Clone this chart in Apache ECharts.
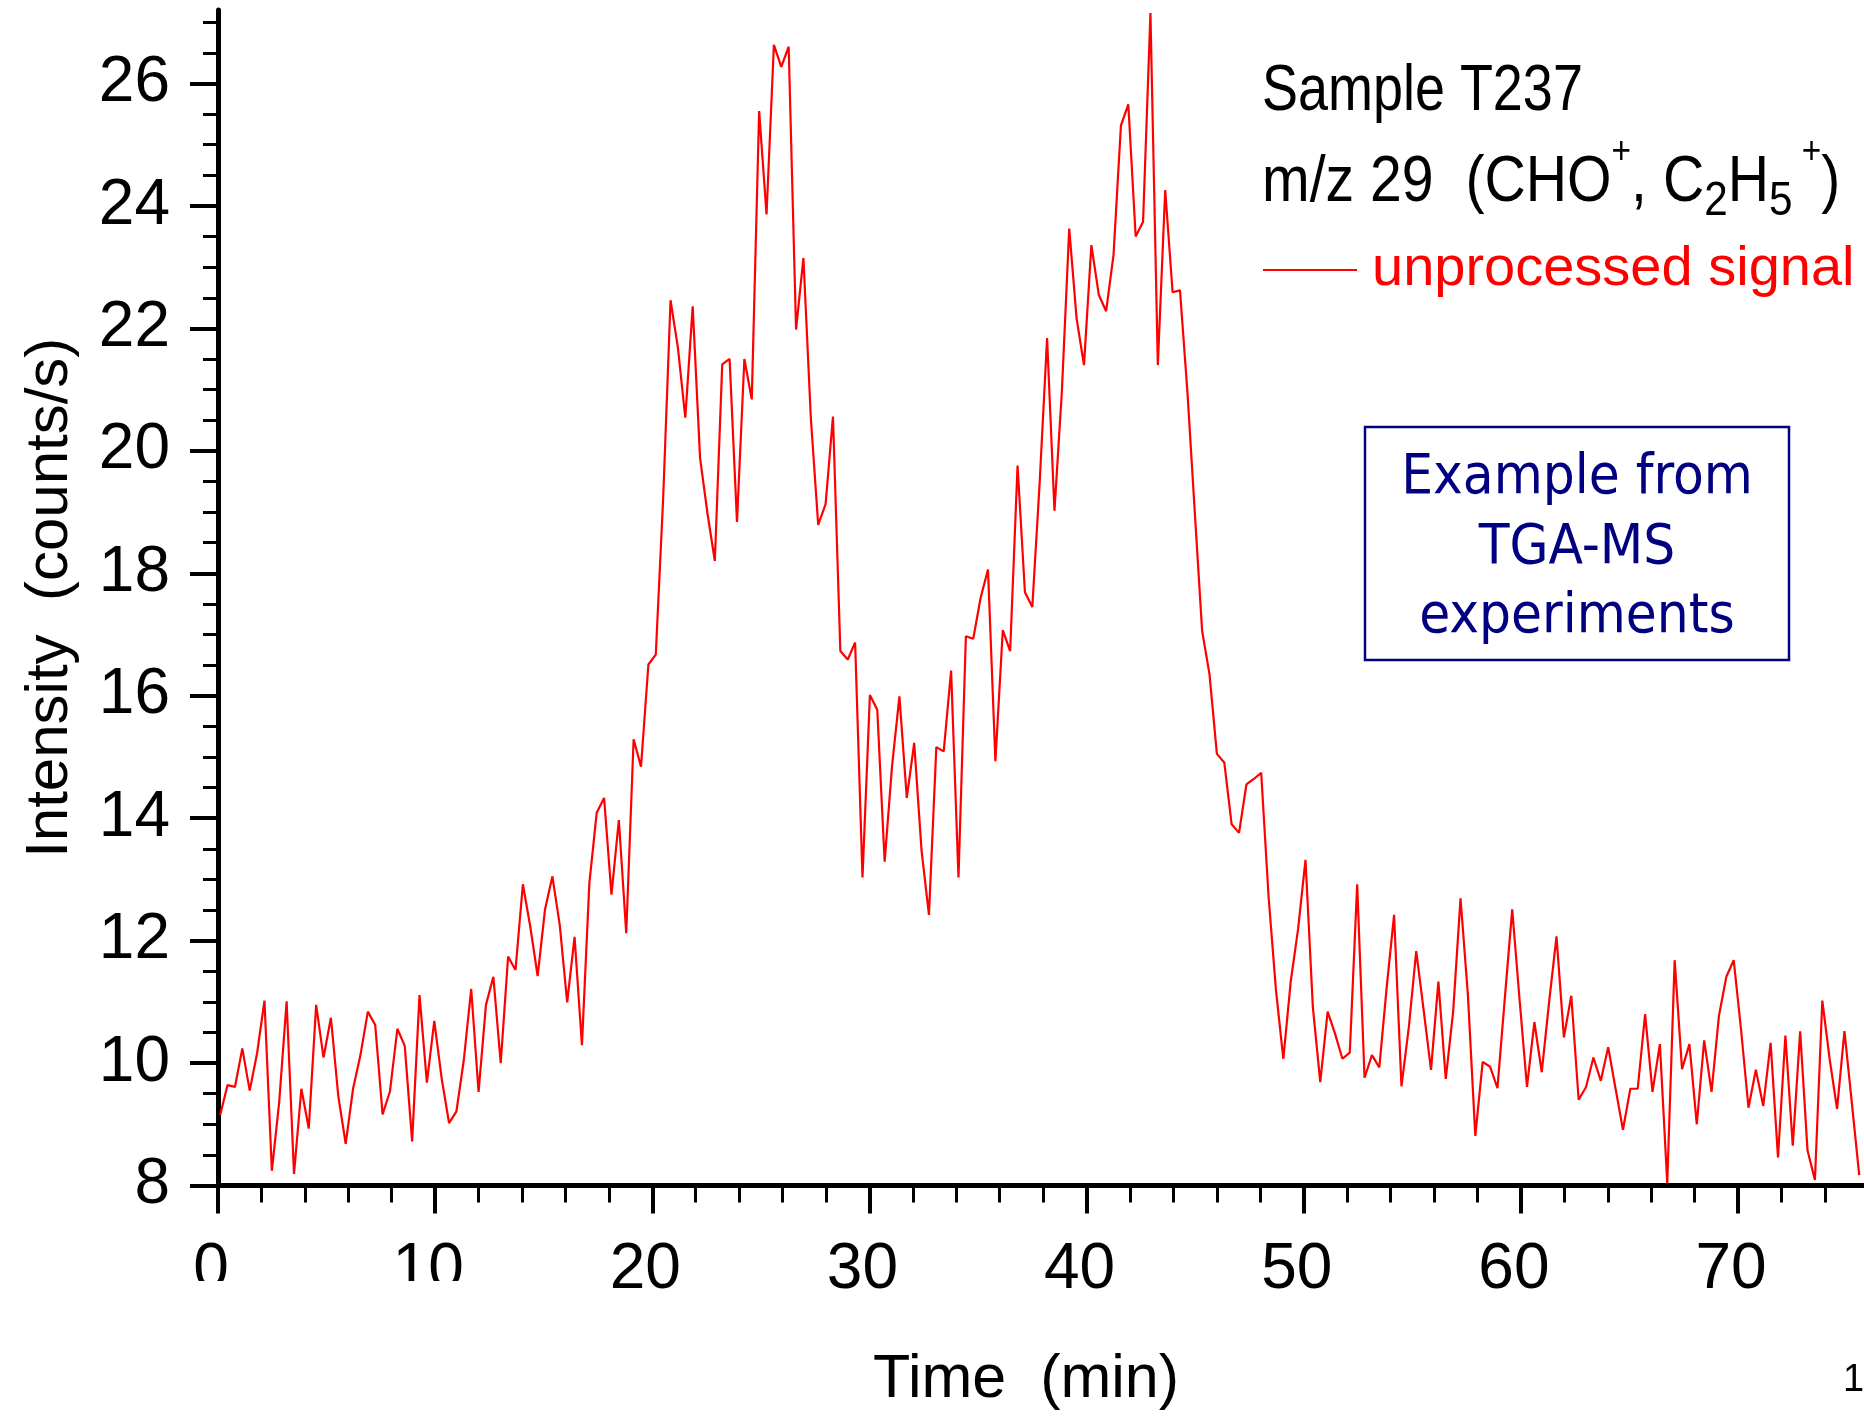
<!DOCTYPE html>
<html>
<head>
<meta charset="utf-8">
<title>Sample T237 m/z 29</title>
<script src="https://cdn.jsdelivr.net/npm/echarts@6/dist/echarts.min.js"></script>
<style>
  html, body { margin: 0; padding: 0; background: #fff; }
  #signal { width: 1864px; height: 1419px; }
</style>
</head>
<body>
<div id="signal"></div>
<script>
// time axis of the scan: first point and spacing (min)
const timeStart = 0.1
const timeStep = 0.34

// m/z 29 intensity (counts/s), one value per scan
const intensity = [
  9.15, 9.64, 9.61, 10.24, 9.55, 10.16, 11.02, 8.24, 9.37, 11.01,
  8.19, 9.58, 8.93, 10.95, 10.09, 10.74, 9.46, 8.68, 9.58, 10.13,
  10.84, 10.62, 9.16, 9.54, 10.56, 10.28, 8.72, 11.11, 9.68, 10.69,
  9.75, 9.02, 9.21, 10.05, 11.21, 9.53, 10.95, 11.41, 10.00, 11.74,
  11.52, 12.92, 12.23, 11.42, 12.51, 13.05, 12.25, 10.99, 12.06, 10.29,
  12.93, 14.09, 14.33, 12.75, 13.97, 12.12, 15.29, 14.84, 16.51, 16.67,
  19.22, 22.46, 21.68, 20.54, 22.36, 19.88, 18.98, 18.20, 21.41, 21.50,
  18.84, 21.50, 20.84, 25.55, 23.86, 26.63, 26.27, 26.60, 21.98, 23.15,
  20.54, 18.79, 19.13, 20.56, 16.73, 16.59, 16.87, 13.03, 16.01, 15.77,
  13.29, 14.85, 15.99, 14.33, 15.23, 13.47, 12.42, 15.16, 15.09, 16.41,
  13.03, 16.97, 16.93, 17.60, 18.06, 14.93, 17.07, 16.73, 19.76, 17.69,
  17.45, 19.49, 21.84, 19.02, 20.96, 23.63, 22.16, 21.40, 23.36, 22.55,
  22.28, 23.20, 25.31, 25.66, 23.50, 23.74, 27.15, 21.40, 24.26, 22.59,
  22.62, 20.98, 19.01, 17.06, 16.35, 15.05, 14.91, 13.90, 13.76, 14.55,
  14.64, 14.74, 12.72, 11.19, 10.07, 11.33, 12.19, 13.32, 10.91, 9.69,
  10.84, 10.48, 10.07, 10.17, 12.92, 9.76, 10.13, 9.93, 11.24, 12.42,
  9.62, 10.59, 11.83, 10.87, 9.89, 11.33, 9.74, 10.84, 12.69, 11.11,
  8.81, 10.02, 9.94, 9.59, 11.06, 12.51, 11.03, 9.61, 10.67, 9.85,
  11.00, 12.07, 10.42, 11.10, 9.40, 9.61, 10.09, 9.71, 10.26, 9.58,
  8.91, 9.58, 9.58, 10.80, 9.53, 10.31, 8.04, 11.68, 9.90, 10.31,
  9.00, 10.37, 9.53, 10.77, 11.41, 11.68, 10.54, 9.27, 9.89, 9.30,
  10.33, 8.46, 10.45, 8.65, 10.52, 8.57, 8.09, 11.02, 10.06, 9.25,
  10.52, 9.35, 8.17
]

// tick values
const xMajorTicks = [0, 10, 20, 30, 40, 50, 60, 70]
const xMinorTicks = [2, 4, 6, 8, 12, 14, 16, 18, 22, 24, 26, 28, 32, 34, 36, 38,
  42, 44, 46, 48, 52, 54, 56, 58, 62, 64, 66, 68, 72, 74]
const yMajorTicks = [8, 10, 12, 14, 16, 18, 20, 22, 24, 26]
const yMinorTicks = [8.5, 9, 9.5, 10.5, 11, 11.5, 12.5, 13, 13.5, 14.5, 15, 15.5,
  16.5, 17, 17.5, 18.5, 19, 19.5, 20.5, 21, 21.5, 22.5, 23, 23.5, 24.5, 25, 25.5,
  26.5, 27]
// labels whose lower part is cut off in the original
const cutLabels = [0, 10]

const seriesName = 'unprocessed signal'
const sans = "'Liberation Sans', Arial, sans-serif"
const boxFont = "'DejaVu Sans Condensed', 'DejaVu Sans', sans-serif"

let myChart = echarts.init(document.getElementById('signal'))

let points = intensity.map((v, i) => [timeStart + i * timeStep, v])

let option = {
  animation: false,
  backgroundColor: '#fff',
  grid: {
    left: 218,
    right: 0,
    top: 10,
    bottom: 233.5,
    containLabel: false,
    outerBoundsMode: 'none'
  },
  legend: {
    data: [seriesName],
    left: 1258,
    top: 237,
    icon: 'rect',
    itemWidth: 94,
    itemHeight: 2,
    selectedMode: false,
    textStyle: { color: '#ff0000', fontSize: 56, fontFamily: sans, padding: [0, 0, 0, 10] }
  },
  xAxis: [
    {
      type: 'value',
      min: 0,
      max: 75.8,
      position: 'bottom',
      axisLine: { onZero: false, lineStyle: { color: '#000', width: 5 } },
      axisTick: { customValues: xMajorTicks, length: 28, lineStyle: { color: '#000', width: 4 } },
      axisLabel: {
        customValues: xMajorTicks,
        margin: 53,
        color: '#000',
        fontSize: 64,
        fontFamily: sans,
        padding: [0, 14, 0, 0]
      },
      splitLine: { show: false },
      name: 'Time  (min)',
      nameLocation: 'middle',
      nameGap: 164,
      nameTextStyle: { color: '#000', fontSize: 61, fontFamily: sans, padding: [0, 30, 0, 0] }
    },
    {
      type: 'value',
      min: 0,
      max: 75.8,
      position: 'bottom',
      axisLine: { show: false },
      axisLabel: { show: false },
      axisTick: { customValues: xMinorTicks, length: 17, lineStyle: { color: '#000', width: 3 } },
      splitLine: { show: false }
    }
  ],
  yAxis: [
    {
      type: 'value',
      min: 8,
      max: 27.2,
      position: 'left',
      axisLine: { onZero: false, lineStyle: { color: '#000', width: 5 } },
      axisTick: { customValues: yMajorTicks, length: 28, lineStyle: { color: '#000', width: 4 } },
      axisLabel: {
        customValues: yMajorTicks,
        margin: 48,
        color: '#000',
        fontSize: 64,
        fontFamily: sans,
        padding: [36, 0, 0, 0]
      },
      splitLine: { show: false },
      name: 'Intensity  (counts/s)',
      nameLocation: 'middle',
      nameGap: 138,
      nameTextStyle: { color: '#000', fontSize: 60, fontFamily: sans }
    },
    {
      type: 'value',
      min: 8,
      max: 27.2,
      position: 'left',
      axisLine: { show: false },
      axisLabel: { show: false },
      axisTick: { customValues: yMinorTicks, length: 15, lineStyle: { color: '#000', width: 3 } },
      splitLine: { show: false }
    }
  ],
  graphic: [
    {
      id: 'sample',
      type: 'text',
      x: 1262,
      y: 92,
      scaleX: 0.83,
      style: { text: 'Sample T237', fill: '#000', font: '65px ' + sans, verticalAlign: 'middle' }
    },
    {
      id: 'ion',
      type: 'text',
      x: 1262,
      y: 183,
      scaleX: 0.88,
      style: {
        text: 'm/z 29  (CHO{sup|+}, C{sub|2}H{sub|5}{sup| +})',
        fill: '#000',
        font: '65px ' + sans,
        verticalAlign: 'middle',
        rich: {
          sup: { fontSize: 38, fontFamily: sans, fill: '#000', padding: [0, 0, 60, 0] },
          sub: { fontSize: 48, fontFamily: sans, fill: '#000', padding: [38, 0, 0, 0] }
        }
      }
    },
    {
      id: 'box',
      type: 'rect',
      shape: { x: 1365, y: 427, width: 424, height: 233 },
      style: { fill: 'none', stroke: '#000080', lineWidth: 2.5 }
    },
    {
      id: 'box1',
      type: 'text',
      x: 1577,
      y: 478,
      style: { text: 'Example from', fill: '#000080', font: '56px ' + boxFont, align: 'center', verticalAlign: 'middle' }
    },
    {
      id: 'box2',
      type: 'text',
      x: 1577,
      y: 548,
      style: { text: 'TGA-MS', fill: '#000080', font: '56px ' + boxFont, align: 'center', verticalAlign: 'middle' }
    },
    {
      id: 'box3',
      type: 'text',
      x: 1577,
      y: 617,
      style: { text: 'experiments', fill: '#000080', font: '56px ' + boxFont, align: 'center', verticalAlign: 'middle' }
    },
    {
      // page number, cut by the right edge
      id: 'page',
      type: 'text',
      x: 1843,
      y: 1381,
      style: { text: '10', fill: '#000', font: '38px ' + sans, verticalAlign: 'middle' }
    }
  ],
  series: [
    {
      type: 'line',
      name: seriesName,
      data: points,
      symbol: 'none',
      color: '#ff0000',
      lineStyle: { color: '#ff0000', width: 2.2 }
    }
  ]
}
myChart.setOption(option)

// white strips over the bottom of the first two tick labels, as in the original scan
let masks = cutLabels.map((v, i) => {
  let px = myChart.convertToPixel({ xAxisIndex: 0 }, v)
  return {
    id: 'mask' + i,
    type: 'rect',
    z: 100,
    shape: { x: px - 45, y: 1281, width: 80, height: 24 },
    style: { fill: '#fff' }
  }
})
myChart.setOption({ graphic: masks })
</script>
</body>
</html>
